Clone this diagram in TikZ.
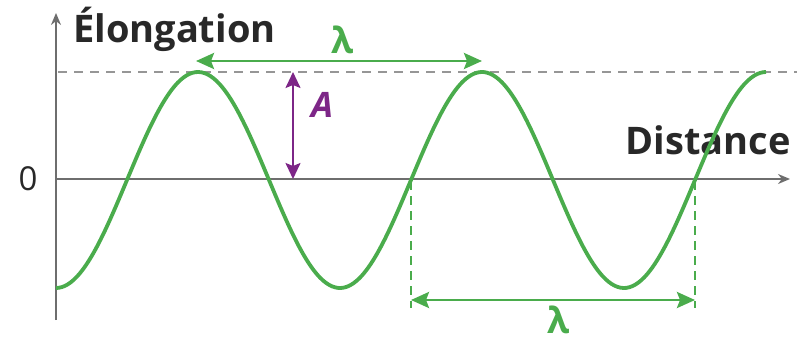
\documentclass[tikz,border=0pt]{standalone}
\usepackage{fontspec}
\setmainfont{Open Sans}
\usetikzlibrary{arrows.meta}
\definecolor{wavegreen}{RGB}{74,172,76}
\definecolor{ampurple}{RGB}{125,38,135}
\definecolor{axisgray}{RGB}{110,110,110}
\definecolor{dashgray}{RGB}{150,150,150}
\definecolor{textdark}{RGB}{40,40,40}
\tikzset{
  axisline/.style={draw=axisgray, line width=1.8pt, -{Stealth[length=12pt,width=10pt]}},
  refdash/.style={draw=dashgray, line width=1.5pt, dash pattern=on 9pt off 7pt},
  wave/.style={draw=wavegreen, line width=3.8pt},
  lamarrow/.style={draw=wavegreen, line width=2.8pt, {Stealth[length=18pt,width=16pt,inset=3pt]}-{Stealth[length=18pt,width=16pt,inset=3pt]}},
  lamdash/.style={draw=wavegreen, line width=2pt, dash pattern=on 9pt off 6pt},
  amparrow/.style={draw=ampurple, line width=2pt, {Stealth[length=16pt,width=15pt,inset=3pt]}-{Stealth[length=16pt,width=15pt,inset=3pt]}},
  axislabel/.style={font=\fontsize{38}{38}\selectfont\bfseries, text=textdark, inner sep=0pt},
  lamlabel/.style={font=\fontsize{36}{36}\selectfont\bfseries, text=wavegreen, inner sep=0pt},
}
\begin{document}
\begin{tikzpicture}[x=1pt,y=-1pt]
\useasboundingbox (0,0) rectangle (797,345);
% reference dashed line at crest level
\coordinate (dl) at (58,72);
\coordinate (dr) at (797,72);
\draw[refdash] (dl) -- (dr);
% axes
\coordinate (o) at (56,179);
\coordinate (ybot) at (56,320);
\coordinate (ytop) at (56,13);
\coordinate (xend) at (790,179);
\draw[axisline] (ybot) -- (ytop);
\draw[axisline] (o) -- (xend);
\node[font=\fontsize{33}{33}\selectfont, text=textdark, inner sep=0pt] (zero) at (28,179) {0};
\node[axislabel, anchor=base west] (elong) at (73,43) {Élongation};
\node[axislabel, anchor=base east] (dist) at (791,154) {Distance};
% wave
\draw[wave] plot[domain=56:766, samples=240, smooth] (\x, {180 - 108*sin(1.267606*(\x-127))});
% top lambda
\coordinate (ta) at (196,61);
\coordinate (tb) at (482,61);
\draw[lamarrow] (ta) -- (tb);
\node[lamlabel, anchor=base] (lamtop) at (343,53) {λ};
% amplitude
\coordinate (aa) at (293,72);
\coordinate (ab) at (293,179);
\draw[amparrow] (aa) -- (ab);
\node[font=\fontsize{35}{35}\selectfont\bfseries\itshape, text=ampurple, inner sep=0pt, anchor=base] (amp) at (322,117) {A};
% bottom lambda
\coordinate (z1) at (411,181);
\coordinate (z1b) at (411,308);
\coordinate (z2) at (695,181);
\coordinate (z2b) at (695,308);
\draw[lamdash] (z1) -- (z1b);
\draw[lamdash] (z2) -- (z2b);
\coordinate (ba) at (411,300);
\coordinate (bb) at (695,300);
\draw[lamarrow] (ba) -- (bb);
\node[lamlabel, anchor=base] (lambot) at (559,333) {λ};
\end{tikzpicture}
\end{document}
